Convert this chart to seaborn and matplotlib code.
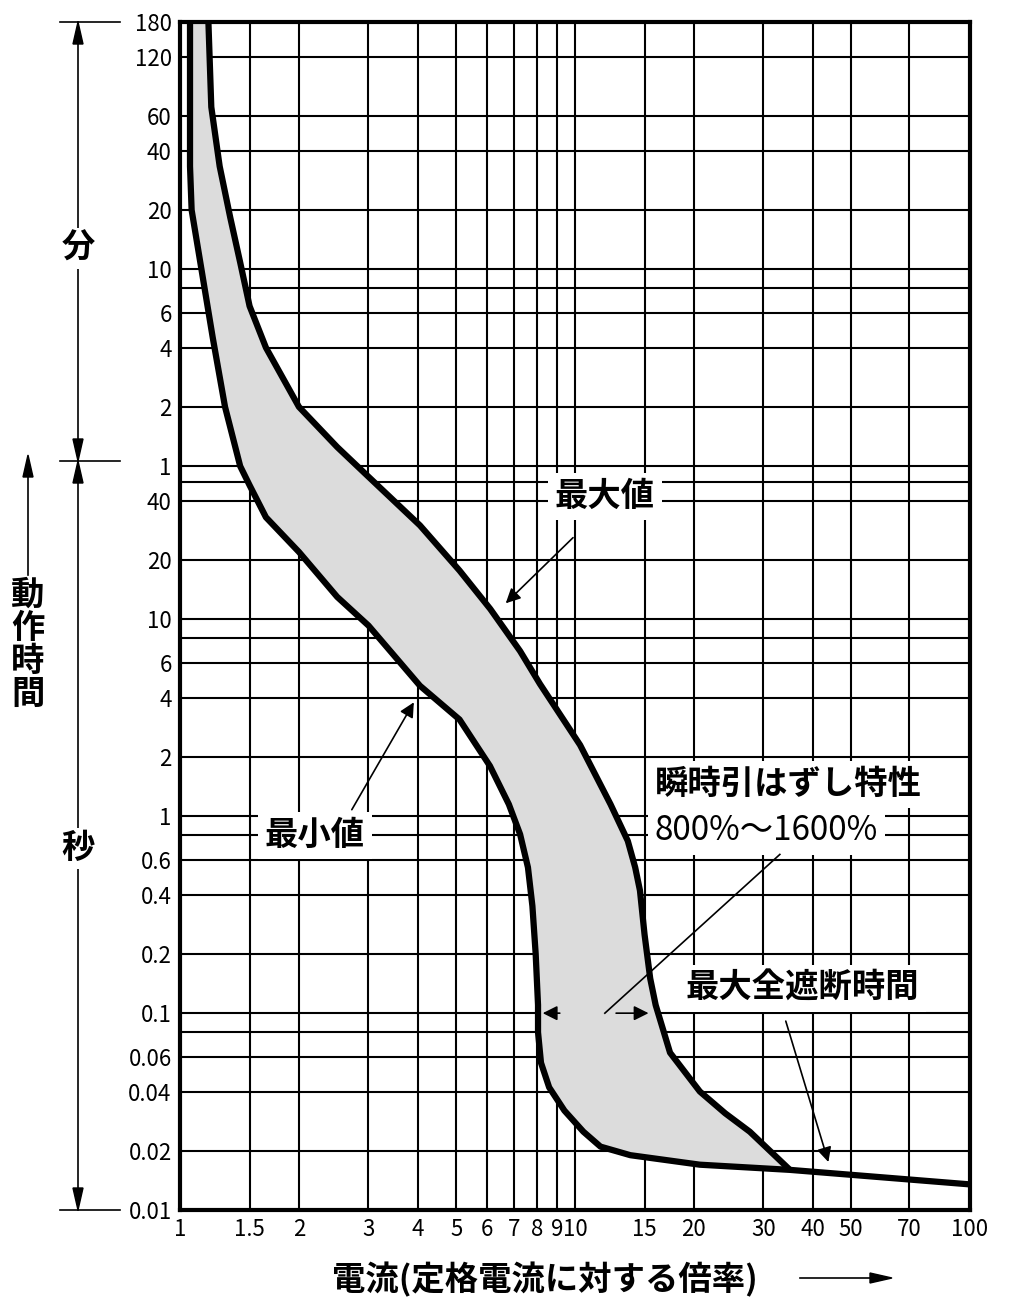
import numpy as np
import matplotlib
matplotlib.use("Agg")
import matplotlib.pyplot as plt
import seaborn as sns

plt.rcParams["font.family"] = ["Noto Sans CJK JP", "DejaVu Sans"]
plt.rcParams["font.weight"] = "bold"

# =====================================
# Data (current multiple, operating time in seconds)
# =====================================
min_x = [1.06, 1.06, 1.07, 1.12, 1.21, 1.30, 1.42, 1.50, 1.65, 2.0, 2.5, 3.0,
         4.05, 5.1, 6.09, 6.8, 7.26, 7.6, 7.8, 7.95, 8.06, 8.06, 8.2, 8.6,
         9.4, 10.5, 11.6, 13.8, 20.7, 35.0, 100]
min_y = [10800, 2000, 1200, 690, 270, 120, 60, 48, 33, 22, 13, 9.3,
         4.6, 3.1, 1.8, 1.15, 0.81, 0.55, 0.35, 0.2, 0.11, 0.08, 0.056, 0.042,
         0.032, 0.025, 0.021, 0.019, 0.017, 0.016, 0.0135]

max_x = [1.18, 1.20, 1.26, 1.34, 1.42, 1.50, 1.65, 2.0, 2.5, 3.0, 4.05, 5.1,
         6.1, 7.26, 8.15, 10.3, 12.3, 13.6, 14.2, 14.6, 15.0, 15.5, 16.0,
         17.4, 20.7, 24.0, 27.7, 35.0]
max_y = [10800, 4000, 2000, 1100, 650, 390, 240, 120, 75, 53, 30, 17.7,
         11.3, 6.9, 4.7, 2.3, 1.15, 0.75, 0.55, 0.42, 0.25, 0.15, 0.11,
         0.063, 0.040, 0.031, 0.025, 0.016]

x_ticks = [1, 1.5, 2, 3, 4, 5, 6, 7, 8, 9, 10, 15, 20, 30, 40, 50, 70, 100]
x_labels = ["1", "1.5", "2", "3", "4", "5", "6", "7", "8", "9", "10", "15",
            "20", "30", "40", "50", "70", "100"]

y_ticks = [10800, 7200, 3600, 2400, 1200, 600, 360, 240, 120, 60,
           40, 20, 10, 6, 4, 2, 1, 0.6, 0.4, 0.2, 0.1, 0.06, 0.04, 0.02, 0.01]
y_labels = ["180", "120", "60", "40", "20", "10", "6", "4", "2", "1",
            "40", "20", "10", "6", "4", "2", "1", "0.6", "0.4", "0.2", "0.1",
            "0.06", "0.04", "0.02", "0.01"]
y_extra = [480, 50, 8, 0.8, 0.08]

# =====================================
# Figure
# =====================================
fig = plt.figure(figsize=(10.24, 13.15), dpi=100)
ax = fig.add_axes([0.1758, 0.0798, 0.7715, 0.9034])
ax.set_xscale("log")
ax.set_yscale("log")
ax.set_xlim(1, 100)
ax.set_ylim(0.01, 10800)

for v in x_ticks:
    ax.axvline(v, color="black", lw=1.5, zorder=1)
for v in y_ticks + y_extra:
    ax.axhline(v, color="black", lw=1.5, zorder=1)

poly_x = min_x[:-1] + max_x[::-1]
poly_y = min_y[:-1] + max_y[::-1]
ax.fill(poly_x, poly_y, color="#dcdcdc", zorder=2)

for xs, ys in [(min_x, min_y), (max_x, max_y)]:
    sns.lineplot(x=xs, y=ys, sort=False, estimator=None, color="black",
                 lw=4.5, ax=ax, zorder=3, solid_joinstyle="round",
                 solid_capstyle="butt")

ax.set_xticks(x_ticks)
ax.set_xticklabels(x_labels, fontsize=16, fontweight="normal")
ax.set_yticks(y_ticks)
ax.set_yticklabels(y_labels, fontsize=16, fontweight="normal")
ax.minorticks_off()
ax.tick_params(length=0, pad=6)
for s in ax.spines.values():
    s.set_linewidth(3)
    s.set_zorder(5)

# =====================================
# Annotations
# =====================================
box = dict(facecolor="white", edgecolor="none", pad=5)
arrow = dict(arrowstyle="-|>", color="black", lw=1.2, mutation_scale=22)
ax.text(8.9, 42, "最大値", fontsize=24, ha="left", va="center", bbox=box, zorder=6)
ax.annotate("", xy=(6.6, 11.8), xytext=(10.0, 26.6), arrowprops=arrow, zorder=6)
ax.text(1.64, 0.8, "最小値", fontsize=24, ha="left", va="center", bbox=box, zorder=6)
ax.annotate("", xy=(3.94, 3.9), xytext=(2.7, 1.05), arrowprops=arrow, zorder=6)
ax.text(15.9, 1.45, "瞬時引はずし特性", fontsize=24, ha="left", va="center", bbox=box, zorder=6)
ax.text(15.9, 0.85, "800%～1600%", fontsize=24, fontweight="normal",
        ha="left", va="center", bbox=box, zorder=6)
ax.plot([11.9, 33.0], [0.1, 0.64], color="black", lw=1.2, zorder=6)
ax.annotate("", xy=(8.15, 0.1), xytext=(9.3, 0.1), arrowprops=arrow, zorder=6)
ax.annotate("", xy=(15.6, 0.1), xytext=(12.5, 0.1), arrowprops=arrow, zorder=6)
ax.text(19.0, 0.134, "最大全遮断時間", fontsize=24, ha="left", va="center", bbox=box, zorder=6)
ax.annotate("", xy=(44, 0.017), xytext=(34, 0.094), arrowprops=arrow, zorder=6)

# Left side: minute / second spans
fx = lambda px: px / 1024
fy = lambda py: 1 - py / 1315
for py in [22, 461, 1210]:
    fig.add_artist(plt.Line2D([fx(60), fx(120)], [fy(py), fy(py)], color="black", lw=1.2))
for (a, b) in [(22, 461), (461, 1210)]:
    fig.add_artist(plt.Line2D([fx(78), fx(78)], [fy(a), fy(b)], color="black", lw=1.2))
    for p, d in [(a, 1), (b, -1)]:
        fig.add_artist(plt.Polygon([[fx(78), fy(p)], [fx(73), fy(p + d * 22)], [fx(83), fy(p + d * 22)]],
                                   closed=True, color="black"))
fig.text(fx(78), fy(248), "分", fontsize=24, ha="center", va="center",
         bbox=dict(facecolor="white", edgecolor="none", pad=3))
fig.text(fx(78), fy(848), "秒", fontsize=24, ha="center", va="center",
         bbox=dict(facecolor="white", edgecolor="none", pad=3))
fig.text(fx(28), fy(645), "動\n作\n時\n間", fontsize=24, ha="center", va="center", linespacing=1.0)
fig.add_artist(plt.Line2D([fx(28), fx(28)], [fy(575), fy(470)], color="black", lw=1.2))
fig.add_artist(plt.Polygon([[fx(28), fy(455)], [fx(23), fy(477)], [fx(33), fy(477)]],
                           closed=True, color="black"))

fig.text(fx(545), fy(1280), "電流(定格電流に対する倍率)", fontsize=24, ha="center", va="center")
fig.add_artist(plt.Line2D([fx(800), fx(875)], [fy(1278), fy(1278)], color="black", lw=1.2))
fig.add_artist(plt.Polygon([[fx(892), fy(1278)], [fx(870), fy(1273)], [fx(870), fy(1283)]],
                           closed=True, color="black"))

fig.savefig("out.png", dpi=100)
